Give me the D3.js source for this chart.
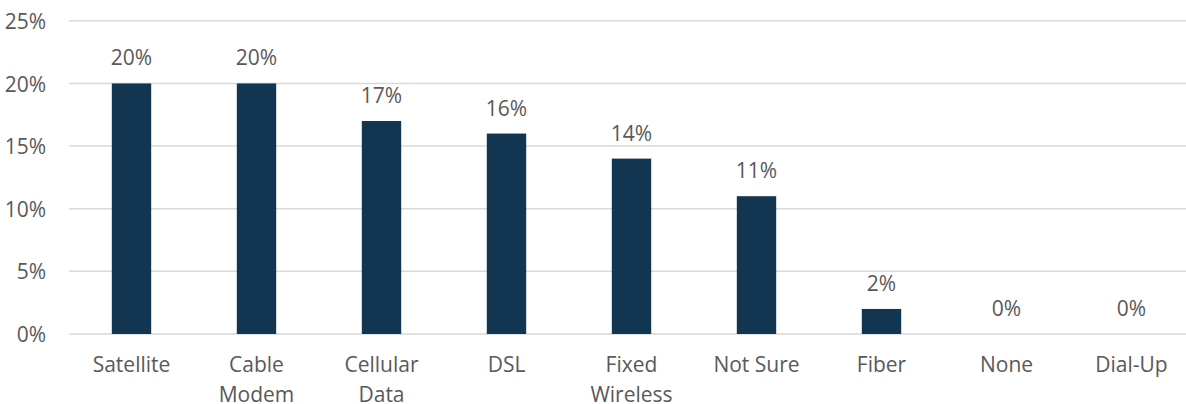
<!DOCTYPE html>
<html>
<head>
<meta charset="utf-8">
<script src="https://cdn.jsdelivr.net/npm/d3@7"></script>
<style>
  html, body { margin: 0; padding: 0; background: #ffffff; overflow: hidden; }
  svg { display: block; }
  text { font-family: "Open Sans", sans-serif; fill: #595959; }
</style>
</head>
<body>
<svg id="chart" width="1186" height="404"></svg>
<script>
const categories = ["Satellite", "Cable Modem", "Cellular Data", "DSL", "Fixed Wireless", "Not Sure", "Fiber", "None", "Dial-Up"];
const values = [20, 20, 17, 16, 14, 11, 2, 0, 0];
const yTicks = [0, 5, 10, 15, 20, 25];

const svg = d3.select("#chart");
const fontSize = 21;

const x = d3.scaleBand()
  .domain(categories)
  .range([69, 1194])
  .paddingInner(0.685)
  .paddingOuter(0.3425);

const y = d3.scaleLinear()
  .domain([0, 25])
  .range([334, 20.8]);

// gridlines
svg.append("g")
  .selectAll("line")
  .data(yTicks)
  .join("line")
  .attr("x1", 69)
  .attr("x2", 1194)
  .attr("y1", d => y(d))
  .attr("y2", d => y(d))
  .attr("stroke", "#d9d9d9")
  .attr("stroke-width", 1.5);

// y axis labels
const yAxis = d3.axisLeft(y).tickValues(yTicks).tickFormat(d => d + "%").tickSize(0).tickPadding(0);
const yg = svg.append("g").attr("transform", "translate(46,0)").call(yAxis);
yg.select(".domain").remove();
yg.selectAll("text")
  .attr("font-size", fontSize)
  .attr("font-family", "'Open Sans', sans-serif")
  .attr("fill", "#595959")
  .attr("dy", "0.36em");

// bars
svg.append("g")
  .selectAll("rect")
  .data(values)
  .join("rect")
  .attr("x", (d, i) => x(categories[i]))
  .attr("width", x.bandwidth())
  .attr("y", d => y(d))
  .attr("height", d => y(0) - y(d))
  .attr("fill", "#123551");

// value labels
svg.append("g")
  .selectAll("text")
  .data(values)
  .join("text")
  .attr("x", (d, i) => x(categories[i]) + x.bandwidth() / 2)
  .attr("y", d => y(d) - 18)
  .attr("text-anchor", "middle")
  .attr("font-size", fontSize)
  .text(d => d + "%");

// category labels (wrapped)
const xAxis = d3.axisBottom(x).tickSize(0).tickPadding(0);
const xg = svg.append("g").attr("transform", "translate(0,0)").call(xAxis);
xg.select(".domain").remove();
xg.selectAll(".tick text").each(function(d) {
  const t = d3.select(this);
  t.text(null)
    .attr("font-size", fontSize)
    .attr("font-family", "'Open Sans', sans-serif")
    .attr("fill", "#595959")
    .attr("y", 0)
    .attr("dy", null);
  const words = d.split(" ");
  let lines = [];
  // measure whole label; wrap at spaces if too wide
  const tmp = t.append("tspan").text(d);
  const w = tmp.node().getComputedTextLength();
  tmp.remove();
  if (w > 110 && words.length > 1) lines = words; else lines = [d];
  lines.forEach((ln, i) => {
    t.append("tspan")
      .attr("x", 0)
      .attr("y", 372.3 + i * 29.4)
      .text(ln);
  });
});
</script>
</body>
</html>
